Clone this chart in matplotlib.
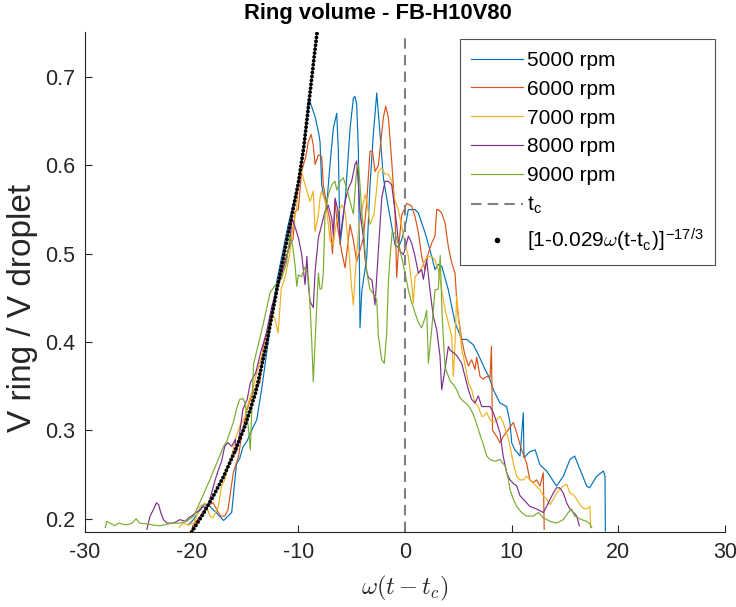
import numpy as np
import matplotlib
matplotlib.use("Agg")
import matplotlib.pyplot as plt
from matplotlib.lines import Line2D

# -----------------------------
# 1. Data: (omega*(t - tc), V ring / V droplet)
# -----------------------------

rpm_5000 = [
    (-20.3, 0.193), (-19.9, 0.198), (-19.5, 0.205), (-18.9, 0.216), (-18.3, 0.214),
    (-17.7, 0.207), (-17.0, 0.198), (-16.6, 0.203), (-16.25, 0.207), (-15.8, 0.262),
    (-15.5, 0.268), (-15.2, 0.281), (-14.8, 0.288), (-14.5, 0.297), (-13.9, 0.312),
    (-13.4, 0.350), (-13.0, 0.385), (-12.5, 0.43), (-12.0, 0.47), (-11.5, 0.50),
    (-11.0, 0.53), (-10.5, 0.555), (-10.0, 0.58), (-9.5, 0.62), (-9.2, 0.655),
    (-9.06, 0.674), (-8.9, 0.672), (-8.43, 0.655), (-8.12, 0.638), (-7.97, 0.627),
    (-7.81, 0.578), (-7.66, 0.567), (-7.34, 0.556), (-7.03, 0.601), (-6.72, 0.642),
    (-6.4, 0.659), (-6.25, 0.616), (-6.09, 0.510), (-5.62, 0.559), (-5.15, 0.642),
    (-4.84, 0.676), (-4.69, 0.678), (-4.53, 0.669), (-4.37, 0.616), (-4.22, 0.416),
    (-4.06, 0.457), (-3.59, 0.495), (-3.28, 0.578), (-2.97, 0.635), (-2.65, 0.682),
    (-2.34, 0.635), (-2.03, 0.586), (-1.56, 0.552), (-0.94, 0.510), (-0.63, 0.507),
    (-0.31, 0.516), (0.0, 0.53), (0.31, 0.550), (0.62, 0.550), (0.94, 0.550),
    (1.25, 0.546), (1.87, 0.524), (2.5, 0.497), (2.81, 0.482), (3.12, 0.488),
    (3.44, 0.486), (4.06, 0.459), (4.69, 0.422), (5.31, 0.403), (5.78, 0.403),
    (6.4, 0.397), (6.9, 0.385), (7.5, 0.369), (7.9, 0.36), (8.28, 0.346),
    (8.9, 0.331), (9.53, 0.327), (9.84, 0.309), (10.0, 0.286), (10.3, 0.278),
    (10.78, 0.271), (11.09, 0.320), (11.15, 0.269), (11.7, 0.276), (12.2, 0.278),
    (12.65, 0.261), (13.28, 0.254), (14.2, 0.237), (14.84, 0.248), (15.46, 0.267),
    (15.9, 0.271), (16.4, 0.256), (17.03, 0.237), (17.3, 0.235), (17.97, 0.248),
    (18.6, 0.254), (18.75, 0.248), (18.78, 0.186),
]

rpm_6000 = [
    (-20.0, 0.188), (-19.6, 0.197), (-19.2, 0.203), (-18.6, 0.214), (-18.0, 0.218),
    (-17.3, 0.203), (-16.9, 0.203), (-16.6, 0.21), (-16.1, 0.252), (-15.6, 0.271),
    (-15.3, 0.297), (-14.8, 0.324), (-14.2, 0.345), (-13.6, 0.354), (-13.3, 0.395),
    (-12.65, 0.425), (-12.0, 0.46), (-11.4, 0.486), (-10.8, 0.51), (-10.5, 0.516),
    (-10.3, 0.548), (-10.0, 0.55), (-9.7, 0.593), (-9.3, 0.61), (-9.06, 0.627),
    (-8.8, 0.635), (-8.6, 0.623), (-8.43, 0.601), (-8.12, 0.612), (-7.81, 0.61),
    (-7.66, 0.578), (-7.34, 0.555), (-7.03, 0.537), (-6.8, 0.50), (-6.56, 0.559),
    (-6.4, 0.54), (-6.25, 0.525), (-5.9, 0.50), (-5.62, 0.484), (-5.47, 0.50),
    (-5.15, 0.533), (-4.84, 0.515), (-4.53, 0.491), (-4.2, 0.505), (-3.9, 0.518),
    (-3.59, 0.559), (-3.28, 0.616), (-3.05, 0.616), (-2.81, 0.593), (-2.5, 0.60),
    (-2.03, 0.654), (-1.81, 0.667), (-1.56, 0.654), (-1.25, 0.605), (-0.94, 0.548),
    (-0.78, 0.473), (-0.63, 0.503), (-0.31, 0.544), (0.0, 0.552), (0.16, 0.557),
    (0.62, 0.554), (0.94, 0.542), (1.25, 0.524), (1.56, 0.497), (1.87, 0.482),
    (2.19, 0.501), (2.5, 0.512), (2.81, 0.52), (2.97, 0.55), (3.12, 0.55),
    (3.44, 0.546), (3.75, 0.535), (4.06, 0.508), (4.37, 0.490), (4.69, 0.478),
    (4.84, 0.448), (5.0, 0.429), (5.31, 0.403), (5.62, 0.385), (5.94, 0.373),
    (6.25, 0.38), (6.56, 0.369), (6.72, 0.383), (7.03, 0.361), (7.34, 0.358),
    (7.66, 0.361), (7.97, 0.36), (8.1, 0.395), (8.2, 0.30), (8.6, 0.293),
    (8.9, 0.286), (9.2, 0.293), (9.7, 0.301), (10.15, 0.309), (10.47, 0.297),
    (10.93, 0.278), (11.4, 0.263), (11.7, 0.244), (12.03, 0.241), (12.34, 0.244),
    (12.65, 0.237), (12.96, 0.252), (13.05, 0.188),
]

rpm_7000 = [
    (-21.2, 0.19), (-20.8, 0.195), (-20.3, 0.193), (-19.8, 0.195), (-19.2, 0.214),
    (-18.7, 0.218), (-18.3, 0.203), (-18.0, 0.201), (-17.5, 0.214), (-17.2, 0.237),
    (-16.9, 0.244), (-16.6, 0.26), (-16.25, 0.271), (-15.9, 0.29), (-15.5, 0.305),
    (-15.0, 0.315), (-14.8, 0.327), (-14.3, 0.345), (-13.8, 0.37), (-13.3, 0.39),
    (-12.9, 0.405), (-12.5, 0.43), (-12.2, 0.427), (-11.9, 0.41), (-11.6, 0.461),
    (-11.25, 0.473), (-10.8, 0.50), (-10.5, 0.533), (-10.15, 0.552), (-10.0, 0.586),
    (-9.7, 0.593), (-9.37, 0.578), (-8.9, 0.559), (-8.6, 0.571), (-8.43, 0.525),
    (-8.12, 0.544), (-7.97, 0.563), (-7.81, 0.571), (-7.5, 0.56), (-7.18, 0.533),
    (-7.03, 0.514), (-6.72, 0.51), (-6.56, 0.525), (-6.25, 0.548), (-5.9, 0.555),
    (-5.62, 0.548), (-5.31, 0.51), (-5.0, 0.461), (-4.84, 0.442), (-4.69, 0.473),
    (-4.37, 0.525), (-4.06, 0.548), (-3.75, 0.567), (-3.59, 0.56), (-3.28, 0.533),
    (-2.9, 0.545), (-2.5, 0.593), (-2.18, 0.597), (-1.87, 0.59), (-1.56, 0.59),
    (-1.25, 0.582), (-0.94, 0.56), (-0.63, 0.55), (-0.31, 0.531), (0.0, 0.512),
    (0.31, 0.497), (0.62, 0.467), (0.78, 0.444), (0.94, 0.474), (1.25, 0.478),
    (1.6, 0.485), (2.03, 0.497), (2.5, 0.497), (2.81, 0.493), (3.12, 0.482),
    (3.44, 0.459), (3.75, 0.437), (4.06, 0.422), (4.37, 0.407), (4.53, 0.361),
    (4.69, 0.40), (4.84, 0.452), (5.0, 0.429), (5.31, 0.392), (5.62, 0.375),
    (5.94, 0.354), (6.25, 0.346), (6.56, 0.331), (6.87, 0.327), (7.19, 0.316),
    (7.34, 0.316), (7.66, 0.32), (7.97, 0.312), (8.28, 0.309), (8.6, 0.312),
    (8.9, 0.316), (9.2, 0.309), (9.7, 0.29), (10.15, 0.263), (10.47, 0.248),
    (10.78, 0.244), (11.1, 0.244), (11.4, 0.248), (11.7, 0.244), (12.2, 0.238),
    (12.65, 0.233), (12.96, 0.226), (13.28, 0.222), (13.6, 0.216), (13.9, 0.222),
    (14.2, 0.229), (14.5, 0.233), (14.84, 0.237), (15.15, 0.239), (15.46, 0.229),
    (15.8, 0.227), (16.1, 0.222), (16.4, 0.216), (16.7, 0.212), (17.03, 0.211),
    (17.34, 0.214), (17.4, 0.19),
]

rpm_8000 = [
    (-24.2, 0.188), (-23.9, 0.203), (-23.6, 0.21), (-23.3, 0.218), (-23.1, 0.216),
    (-22.9, 0.207), (-22.65, 0.199), (-22.3, 0.195), (-21.7, 0.195), (-21.1, 0.199),
    (-20.6, 0.197), (-20.3, 0.201), (-20.0, 0.203), (-19.6, 0.207), (-19.2, 0.21),
    (-18.9, 0.214), (-18.6, 0.21), (-18.2, 0.226), (-17.8, 0.244), (-17.5, 0.255),
    (-17.2, 0.265), (-16.9, 0.282), (-16.6, 0.286), (-16.25, 0.282), (-15.9, 0.29),
    (-15.8, 0.276), (-15.5, 0.297), (-15.2, 0.324), (-14.8, 0.335), (-14.5, 0.354),
    (-14.0, 0.365), (-13.5, 0.39), (-13.0, 0.41), (-12.5, 0.44), (-12.0, 0.46),
    (-11.6, 0.475), (-11.25, 0.49), (-10.8, 0.51), (-10.6, 0.54), (-10.3, 0.53),
    (-10.0, 0.518), (-9.7, 0.50), (-9.37, 0.465), (-9.2, 0.497), (-9.06, 0.465),
    (-8.9, 0.446), (-8.6, 0.439), (-8.43, 0.48), (-8.12, 0.518), (-7.81, 0.533),
    (-7.5, 0.548), (-7.2, 0.555), (-6.87, 0.54), (-6.72, 0.522), (-6.56, 0.563),
    (-6.3, 0.55), (-6.09, 0.518), (-5.62, 0.559), (-5.31, 0.574), (-5.0, 0.582),
    (-4.69, 0.601), (-4.53, 0.605), (-4.37, 0.578), (-4.22, 0.548), (-3.9, 0.518),
    (-3.75, 0.495), (-3.59, 0.48), (-3.43, 0.473), (-3.1, 0.47), (-2.81, 0.442),
    (-2.5, 0.503), (-2.18, 0.563), (-1.87, 0.582), (-1.56, 0.582), (-1.25, 0.578),
    (-0.78, 0.533), (-0.63, 0.514), (-0.47, 0.503), (-0.16, 0.499), (0.0, 0.505),
    (0.31, 0.520), (0.62, 0.512), (0.94, 0.497), (1.25, 0.478), (1.56, 0.482),
    (1.72, 0.471), (2.03, 0.493), (2.34, 0.459), (2.65, 0.429), (2.97, 0.414),
    (3.28, 0.384), (3.44, 0.346), (3.75, 0.369), (4.06, 0.395), (4.22, 0.391),
    (4.53, 0.388), (4.84, 0.385), (5.31, 0.376), (5.62, 0.361), (5.94, 0.346),
    (6.25, 0.335), (6.56, 0.331), (6.87, 0.339), (7.19, 0.327), (7.5, 0.327),
    (7.97, 0.327), (8.28, 0.32), (8.6, 0.309), (8.9, 0.297), (9.2, 0.271),
    (9.53, 0.252), (9.84, 0.244), (10.15, 0.24), (10.47, 0.237), (10.78, 0.226),
    (11.1, 0.222), (11.4, 0.218), (11.7, 0.214), (12.34, 0.211), (12.65, 0.209),
    (12.96, 0.207), (13.28, 0.214), (13.6, 0.222), (13.9, 0.229), (14.2, 0.235),
    (14.5, 0.235), (14.84, 0.229), (15.15, 0.218), (15.46, 0.211), (15.8, 0.207),
    (16.1, 0.203), (16.34, 0.192),
]

rpm_9000 = [
    (-28.1, 0.19), (-27.96, 0.197), (-27.5, 0.194), (-27.2, 0.192), (-26.9, 0.195),
    (-26.5, 0.194), (-26.1, 0.193), (-25.6, 0.195), (-25.2, 0.2), (-24.9, 0.195),
    (-24.2, 0.194), (-23.7, 0.193), (-23.0, 0.192), (-22.3, 0.194), (-21.7, 0.195),
    (-21.1, 0.195), (-20.5, 0.197), (-19.8, 0.203), (-19.4, 0.214), (-18.7, 0.233),
    (-18.3, 0.244), (-17.65, 0.263), (-17.0, 0.282), (-16.7, 0.288), (-16.1, 0.309),
    (-15.8, 0.324), (-15.5, 0.335), (-15.2, 0.336), (-15.0, 0.331), (-14.7, 0.305),
    (-14.5, 0.278), (-14.35, 0.33), (-14.2, 0.375), (-13.8, 0.395), (-13.3, 0.42),
    (-12.65, 0.456), (-12.0, 0.467), (-11.6, 0.471), (-11.1, 0.49), (-10.8, 0.52),
    (-10.55, 0.51), (-10.3, 0.486), (-10.15, 0.463), (-10.0, 0.476), (-9.7, 0.474),
    (-9.37, 0.485), (-9.06, 0.473), (-8.9, 0.44), (-8.74, 0.40), (-8.6, 0.355),
    (-8.43, 0.40), (-8.28, 0.44), (-8.12, 0.478), (-7.97, 0.46), (-7.81, 0.46),
    (-7.66, 0.478), (-7.5, 0.546), (-7.18, 0.567), (-6.87, 0.578), (-6.56, 0.582),
    (-6.4, 0.572), (-6.09, 0.582), (-5.78, 0.586), (-5.31, 0.567), (-5.0, 0.552),
    (-4.84, 0.545), (-4.69, 0.571), (-4.53, 0.597), (-4.37, 0.601), (-4.22, 0.578),
    (-4.06, 0.548), (-3.9, 0.529), (-3.75, 0.503), (-3.59, 0.48), (-3.3, 0.46),
    (-3.0, 0.455), (-2.65, 0.448), (-2.5, 0.407), (-2.18, 0.38), (-1.94, 0.376),
    (-1.72, 0.41), (-1.56, 0.467), (-1.4, 0.497), (-1.2, 0.525), (-0.9, 0.522),
    (-0.6, 0.51), (-0.3, 0.495), (0.0, 0.478), (0.31, 0.459), (0.62, 0.445),
    (0.94, 0.433), (1.25, 0.422), (1.56, 0.416), (1.87, 0.427), (2.03, 0.436),
    (2.19, 0.376), (2.5, 0.414), (2.81, 0.459), (3.12, 0.46), (3.3, 0.498),
    (3.45, 0.44), (3.59, 0.405), (3.75, 0.372), (4.22, 0.356), (4.53, 0.352),
    (4.84, 0.346), (5.15, 0.337), (5.47, 0.333), (5.8, 0.33), (6.1, 0.325),
    (6.4, 0.318), (6.72, 0.307), (7.03, 0.295), (7.34, 0.284), (7.66, 0.271),
    (7.97, 0.267), (8.43, 0.265), (8.9, 0.267), (9.37, 0.26), (9.7, 0.244),
    (9.84, 0.233), (10.15, 0.222), (10.47, 0.214), (10.93, 0.207), (11.4, 0.203),
    (12.03, 0.203), (12.5, 0.207), (12.96, 0.201), (13.6, 0.197), (14.2, 0.195),
    (14.84, 0.199), (15.3, 0.207), (15.6, 0.211), (15.9, 0.203), (16.56, 0.199),
    (17.03, 0.197), (17.28, 0.195), (17.5, 0.19),
]

# model curve, values
model_x = [-20.0, -19.0, -18.0, -17.0, -16.0, -15.0, -14.0, -13.0, -12.0,
           -11.0, -10.0, -9.5, -9.0, -8.5, -8.2]
model_y = [0.185, 0.204, 0.225, 0.248, 0.275, 0.305, 0.343, 0.397, 0.46,
           0.52, 0.58, 0.62, 0.672, 0.725, 0.755]

series = [rpm_5000, rpm_6000, rpm_7000, rpm_8000, rpm_9000]
labels = ["5000 rpm", "6000 rpm", "7000 rpm", "8000 rpm", "9000 rpm"]
colors = ["#0072BD", "#D95319", "#EDB120", "#7E2F8E", "#77AC30"]

# -----------------------------
# 2. Plot
# -----------------------------

plt.rcParams["font.family"] = ["Liberation Sans", "DejaVu Sans"]
# sans text in the legend math, italic omega from computer modern
plt.rcParams["mathtext.fontset"] = "custom"
plt.rcParams["mathtext.rm"] = "Liberation Sans"
plt.rcParams["mathtext.sf"] = "Liberation Sans"
plt.rcParams["mathtext.it"] = "cmmi10"
plt.rcParams["axes.unicode_minus"] = False

axis_color = (0.15, 0.15, 0.15)

fig = plt.figure(figsize=(7.36, 6.07), dpi=100)
ax = fig.add_axes([0.1155, 0.1236, 0.8696, 0.8237])

handles = []
for data, label, color in zip(series, labels, colors):
    arr = np.array(data)
    h, = ax.plot(arr[:, 0], arr[:, 1], color=color, lw=0.85, label=label)
    handles.append(h)

tc_line = ax.axvline(0, color=(0.5, 0.5, 0.5), lw=1.5, dashes=(5, 3))

ax.plot(model_x, model_y, color="k", lw=2.8, linestyle=(0, (0.01, 1.0)),
        dash_capstyle="round", solid_capstyle="round")
model_handle = Line2D([], [], color="k", marker=".", markersize=6, linestyle="none")

ax.set_xlim(-30, 30)
ax.set_ylim(0.185, 0.751)
ax.set_xticks(np.arange(-30, 31, 10))
ax.set_yticks([0.2, 0.3, 0.4, 0.5, 0.6, 0.7])
ax.set_yticklabels(["0.2", "0.3", "0.4", "0.5", "0.6", "0.7"])

for side in ["top", "right"]:
    ax.spines[side].set_visible(False)
for side in ["left", "bottom"]:
    ax.spines[side].set_color(axis_color)
    ax.spines[side].set_linewidth(0.8)
ax.tick_params(direction="in", length=5, width=0.8, colors=axis_color,
               labelsize=15.5, pad=7)

ax.set_title("Ring volume - FB-H10V80", fontsize=15.8, fontweight="bold",
             pad=9, x=0.458)
ax.set_ylabel("V ring / V droplet", fontsize=24, color=axis_color, labelpad=5)
ax.yaxis.label.set_y(0.448)
ax.set_xlabel(r"$\omega(t-t_c)$", fontsize=17.5, color=axis_color, labelpad=8,
              math_fontfamily="cm")

leg = ax.legend(
    handles + [tc_line, model_handle],
    labels + [r"t$_\mathrm{c}$", r"[1-0.029$\omega$(t-t$_\mathrm{c}$)]$^{\mathrm{-17/3}}$"],
    loc="upper right", bbox_to_anchor=(0.985, 0.985), borderaxespad=0,
    fontsize=15, frameon=True, fancybox=False, handlelength=2.5,
    handletextpad=0.2, labelspacing=0.47, borderpad=0.55,
)
leg.get_frame().set_edgecolor(axis_color)
leg.get_frame().set_linewidth(0.8)

plt.savefig("out.png", dpi=100)
plt.close()
